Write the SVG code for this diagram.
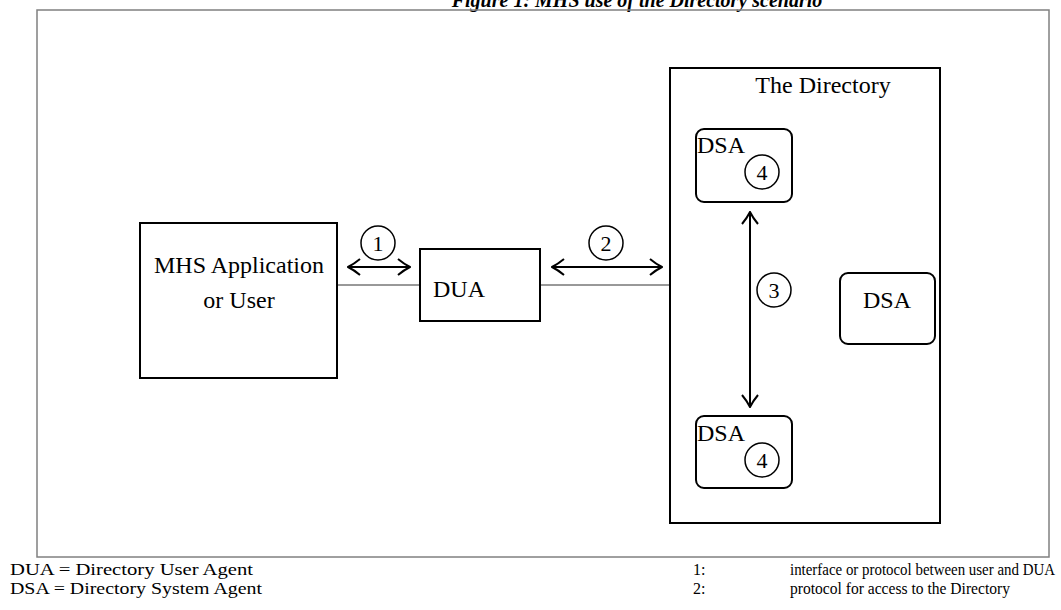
<svg xmlns="http://www.w3.org/2000/svg" width="1061" height="610" viewBox="0 0 1061 610">
<defs>
<style>
text{font-family:"Liberation Serif","Times New Roman",serif;fill:#000}
.lbl{font-size:24px}
.num{font-size:22px}
.leg{font-size:16px}
.box{fill:#fff;stroke:#000;stroke-width:2}
.circ{fill:none;stroke:#000;stroke-width:1.5}
.line{stroke:#333;stroke-width:1;fill:none}
.arr{stroke:#000;stroke-width:2;fill:none;marker-start:url(#ah);marker-end:url(#ah)}
</style>
<marker id="ah" viewBox="0 0 14 18" refX="13" refY="9" markerWidth="14" markerHeight="18" markerUnits="userSpaceOnUse" orient="auto-start-reverse">
<path d="M1,1 Q7,6 13,9 Q7,12 1,17" fill="none" stroke="#000" stroke-width="2"/>
</marker>
</defs>
<text x="637" y="7" text-anchor="middle" font-size="20" font-weight="bold" font-style="italic">Figure 1: MHS use of the Directory scenario</text>
<rect id="frame" x="37" y="10" width="1012" height="547" fill="none" stroke="#808080" stroke-width="1.5"/>
<g id="connectors">
<line class="line" x1="337" y1="285" x2="420" y2="285"/>
<line class="line" x1="540" y1="285" x2="670" y2="285"/>
<line class="arr" x1="348" y1="267" x2="410" y2="267"/>
<line class="arr" x1="552" y1="267" x2="662" y2="267"/>
<line class="arr" x1="750" y1="212" x2="750" y2="407"/>
<circle class="circ" cx="378" cy="243" r="17"/>
<text class="num" x="378" y="251" text-anchor="middle">1</text>
<circle class="circ" cx="606" cy="243" r="17"/>
<text class="num" x="606" y="251" text-anchor="middle">2</text>
<circle class="circ" cx="774" cy="290" r="17"/>
<text class="num" x="774" y="298" text-anchor="middle">3</text>
</g>
<g id="mhs">
<rect class="box" x="140" y="223" width="197" height="155"/>
<text class="lbl" x="239" y="273" text-anchor="middle">MHS Application</text>
<text class="lbl" x="239" y="308" text-anchor="middle">or User</text>
</g>
<g id="dua">
<rect class="box" x="420" y="249" width="120" height="72"/>
<text class="lbl" x="433" y="297">DUA</text>
</g>
<g id="directory">
<rect x="670" y="68" width="270" height="455" fill="none" stroke="#000" stroke-width="2"/>
<text class="lbl" x="823" y="93" text-anchor="middle">The Directory</text>
</g>
<g id="dsa-top">
<rect class="box" x="696" y="129" width="96" height="73" rx="8"/>
<text class="lbl" x="697" y="153">DSA</text>
<circle class="circ" cx="762" cy="172" r="17"/>
<text class="num" x="762" y="180" text-anchor="middle">4</text>
</g>
<g id="dsa-right">
<rect class="box" x="840" y="273" width="95" height="71" rx="8"/>
<text class="lbl" x="887" y="308" text-anchor="middle">DSA</text>
</g>
<g id="dsa-bottom">
<rect class="box" x="696" y="416" width="96" height="72" rx="8"/>
<text class="lbl" x="697" y="441">DSA</text>
<circle class="circ" cx="762" cy="460" r="17"/>
<text class="num" x="762" y="468" text-anchor="middle">4</text>
</g>
<g id="legend">
<text class="leg" x="10" y="575" textLength="243" lengthAdjust="spacingAndGlyphs">DUA = Directory User Agent</text>
<text class="leg" x="10" y="594" textLength="252" lengthAdjust="spacingAndGlyphs">DSA = Directory System Agent</text>
<text class="leg" x="693" y="575">1:</text>
<text class="leg" x="693" y="594">2:</text>
<text class="leg" x="790" y="575" textLength="265" lengthAdjust="spacingAndGlyphs">interface or protocol between user and DUA</text>
<text class="leg" x="790" y="594" textLength="220" lengthAdjust="spacingAndGlyphs">protocol for access to the Directory</text>
</g>
</svg>
